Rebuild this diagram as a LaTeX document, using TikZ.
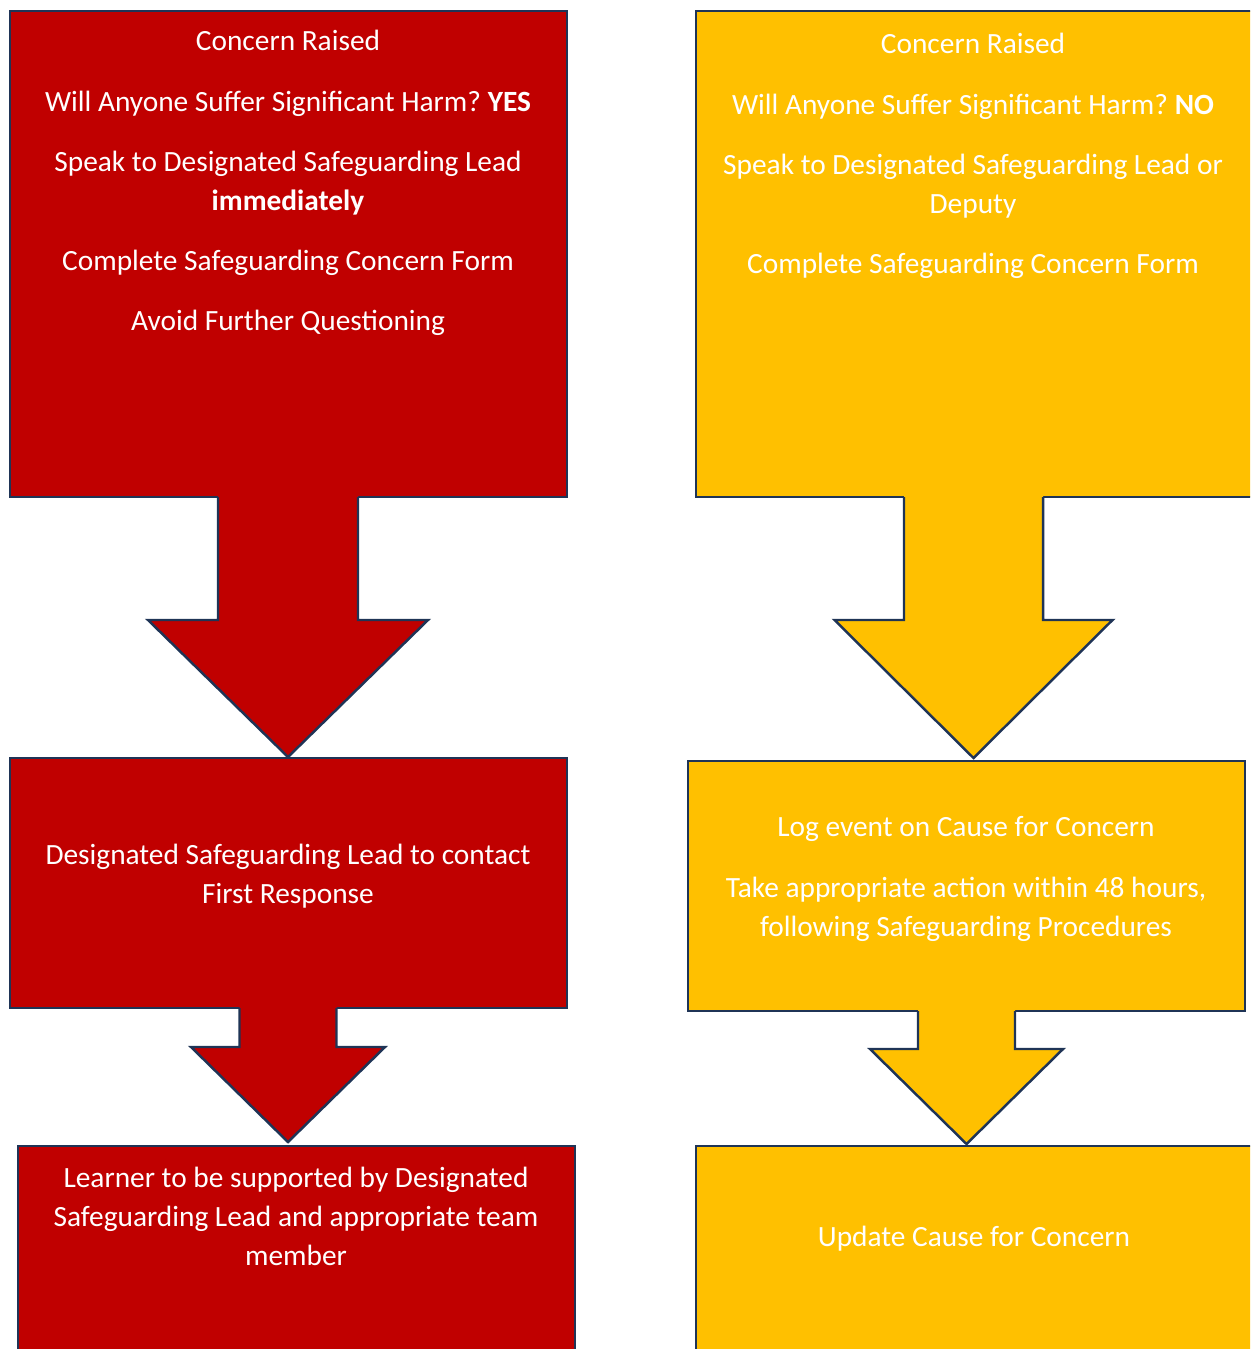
\documentclass[tikz,border=0pt]{standalone}
\usepackage{fontspec}
\setmainfont{Carlito}
\usetikzlibrary{calc}
\definecolor{alertred}{HTML}{C00000}
\definecolor{alertyellow}{HTML}{FFC000}
\definecolor{edgeblue}{HTML}{1F3456}
\def\blockarrow[#1](#2,#3)(#4:#5:#6:#7){\fill[#1, draw=none] ({#2-#4},{#3-4}) -- ({#2-#4},#5) -- ({#2-#6},#5) -- (#2,#7) -- ({#2+#6},#5) -- ({#2+#4},#5) -- ({#2+#4},{#3-4}) -- cycle; \draw[#1, fill=none] ({#2-#4},#3) -- ({#2-#4},#5) -- ({#2-#6},#5) -- (#2,#7) -- ({#2+#6},#5) -- ({#2+#4},#5) -- ({#2+#4},#3);}

\tikzset{
	redbox/.style={fill=alertred, draw=edgeblue, line width=0.7pt},
	yellowbox/.style={fill=alertyellow, draw=edgeblue, line width=0.7pt},
	boxtext/.style={text=white, align=center, font=\fontsize{8.35}{11.1}\selectfont\frenchspacing},
}

\begin{document}
\begin{tikzpicture}[x=0.01cm, y=-0.01cm]
		%%%%% START %%%%%
		\clip (0, 0) rectangle (1250, 1349);
		
		% red side
		\draw[redbox] (10, 11) rectangle (567, 497);
		\blockarrow[redbox](288,497)(70:620:140:757)
		\draw[redbox] (10, 758) rectangle (567, 1008);
		\blockarrow[redbox](288,1008)(48.5:1047:97:1142)
		\draw[redbox] (18, 1146) rectangle (575, 1370);
		
		\node[boxtext] (raisedyes) at (288, 183) {Concern Raised\\[6pt]
			Will Anyone Suffer Significant Harm? \textbf{YES}\\[6pt]
			Speak to Designated Safeguarding Lead\\ \textbf{immediately}\\[6pt]
			Complete Safeguarding Concern Form\\[6pt]
			Avoid Further Questioning};
		\node[boxtext] (contact) at (288, 876) {Designated Safeguarding Lead to contact\\ First Response};
		\node[boxtext] (support) at (296, 1216) {Learner to be supported by Designated\\ Safeguarding Lead and appropriate team\\ member};
		
		% yellow side
		\draw[yellowbox] (696, 11) rectangle (1270, 497);
		\blockarrow[yellowbox](973.5,497)(69.5:620:139:758)
		\draw[yellowbox] (688, 761) rectangle (1245, 1011);
		\blockarrow[yellowbox](966.5,1011)(48.5:1049:96.5:1144)
		\draw[yellowbox] (696, 1146) rectangle (1270, 1370);
		
		\node[boxtext] (raisedno) at (973, 156) {Concern Raised\\[6pt]
			Will Anyone Suffer Significant Harm? \textbf{NO}\\[6pt]
			Speak to Designated Safeguarding Lead or\\ Deputy\\[6pt]
			Complete Safeguarding Concern Form};
		\node[boxtext] (logevent) at (966, 879) {Log event on Cause for Concern\\[6pt]
			Take appropriate action within 48 hours,\\ following Safeguarding Procedures};
		\node[boxtext] (update) at (974, 1239) {Update Cause for Concern};
		
		%%%%% END %%%%%
\end{tikzpicture}
\end{document}
